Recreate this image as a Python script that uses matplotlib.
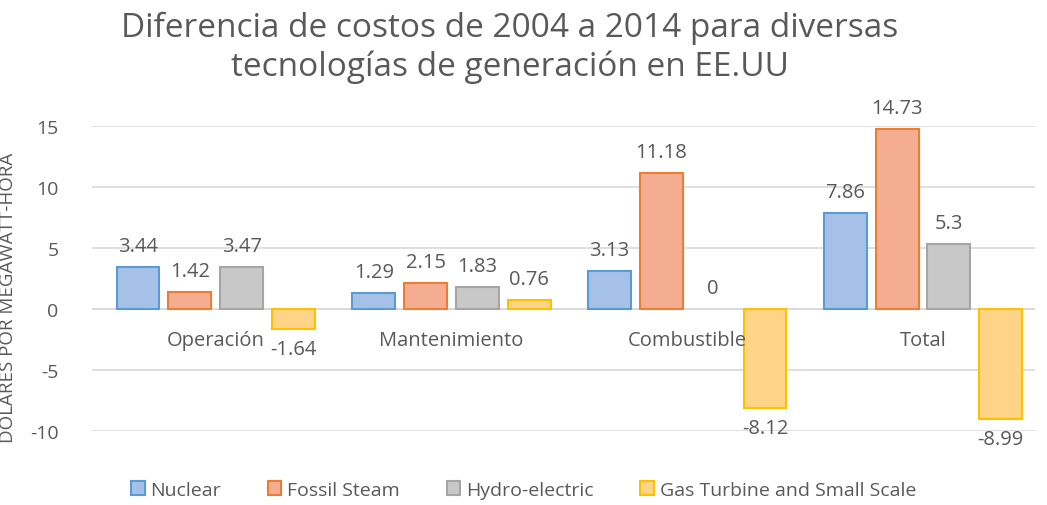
import numpy as np
import matplotlib.pyplot as plt
from matplotlib.patches import Patch

plt.rcParams["font.family"] = ["Open Sans", "DejaVu Sans"]

categories = ["Operación", "Mantenimiento", "Combustible", "Total"]
series_names = ["Nuclear", "Fossil Steam", "Hydro-electric", "Gas Turbine and Small Scale"]
nuclear = [3.44, 1.29, 3.13, 7.86]
fossil = [1.42, 2.15, 11.18, 14.73]
hydro = [3.47, 1.83, 0, 5.3]
gas = [-1.64, 0.76, -8.12, -8.99]
yticks = [-10, -5, 0, 5, 10, 15]

fills = ["#a6c1e7", "#f5ad91", "#c8c8c8", "#fed586"]
edges = ["#5b9bd5", "#ed7d31", "#a5a5a5", "#ffc000"]
text_gray = "#595959"

fig = plt.figure(figsize=(10.47, 5.06), dpi=100)
ax = fig.add_axes([0.0879, 0.146, 0.9006, 0.603])

x = np.arange(len(categories)) + 0.025
step = 0.22
width = 0.182
for i, vals in enumerate([nuclear, fossil, hydro, gas]):
    pos = x + (i - 1.5) * step
    lw = [1.5 if v != 0 else 0 for v in vals]
    ax.bar(pos, vals, width, color=fills[i], edgecolor=edges[i], linewidth=lw, zorder=3)
    for p, v in zip(pos, vals):
        lab = f"{v:g}"
        if v >= 0:
            ax.annotate(lab, (p, v), xytext=(0, 8), textcoords="offset points",
                        ha="center", va="bottom", fontsize=14.5, color=text_gray)
        else:
            ax.annotate(lab, (p, v), xytext=(0, -7), textcoords="offset points",
                        ha="center", va="top", fontsize=14.5, color=text_gray)

for xi, c in zip(x, categories):
    ax.annotate(c, (xi, 0), xytext=(0, -15), textcoords="offset points",
                ha="center", va="top", fontsize=14.5, color=text_gray)

ax.set_xlim(-0.5, len(categories) - 0.5)
ax.set_ylim(-10, 15)
ax.set_yticks(yticks)
ax.set_yticklabels([str(t) for t in yticks], fontsize=14, color=text_gray)
ax.set_xticks([])
ax.grid(axis="y", color="#d9d9d9", linewidth=1.2, zorder=0)
ax.axhline(0, color="#d9d9d9", linewidth=1.2, zorder=1)
for s in ax.spines.values():
    s.set_visible(False)
ax.tick_params(axis="y", length=0, pad=24)
ax.set_ylabel("DOLARES POR MEGAWATT-HORA", fontsize=13.5, color=text_gray)
ax.yaxis.set_label_coords(-0.08, 0.44)

fig.text(0.487, 0.905, "Diferencia de costos de 2004 a 2014 para diversas\ntecnologías de generación en EE.UU",
         ha="center", va="center", fontsize=24, color=text_gray, linespacing=1.2)

handles = [Patch(facecolor=f, edgecolor=e, linewidth=1.5) for f, e in zip(fills, edges)]
fig.legend(handles, series_names, loc="center", bbox_to_anchor=(0.5, 0.03), ncol=4,
           frameon=False, fontsize=14, handlelength=0.7, handleheight=0.7,
           handletextpad=0.3, columnspacing=2.4, labelcolor=text_gray)

fig.savefig("out.png", dpi=100)
